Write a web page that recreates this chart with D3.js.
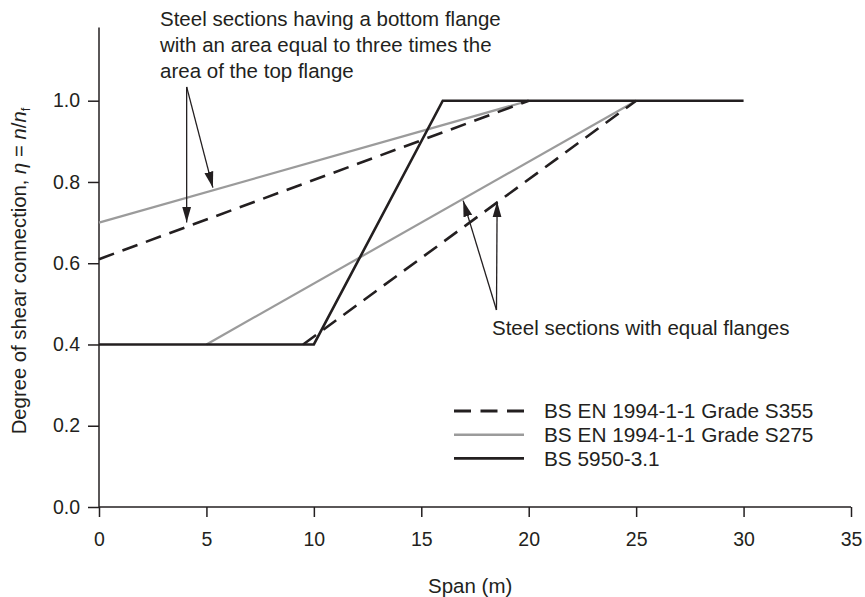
<!DOCTYPE html>
<html>
<head>
<meta charset="utf-8">
<script src="https://cdn.jsdelivr.net/npm/d3@7"></script>
<style>
  html, body { margin: 0; padding: 0; background: #fff; }
  svg { display: block; font-family: "Liberation Sans", Arial, Helvetica, sans-serif; }
</style>
</head>
<body>
<svg id="chart" width="865" height="597"></svg>
<script>
// ---- Data ----
const spanTicks = [0, 5, 10, 15, 20, 25, 30, 35];
const etaTicks = [0.0, 0.2, 0.4, 0.6, 0.8, 1.0];

// Steel sections with equal flanges
const s275EqualX = [5, 25];
const s275EqualY = [0.4, 1.0];
const s355EqualX = [9.5, 25];
const s355EqualY = [0.4, 1.0];

// Steel sections with bottom flange area = 3 x top flange area
const s275UnequalX = [0, 20];
const s275UnequalY = [0.70, 1.0];
const s355UnequalX = [0, 20];
const s355UnequalY = [0.61, 1.0];

// BS 5950-3.1
const bs5950X = [0, 10, 16, 30];
const bs5950Y = [0.4, 0.4, 1.0, 1.0];

const legendLabels = ["BS EN 1994-1-1 Grade S355", "BS EN 1994-1-1 Grade S275", "BS 5950-3.1"];

const topNote = ["Steel sections having a bottom flange", "with an area equal to three times the", "area of the top flange"];
const bottomNote = "Steel sections with equal flanges";
// annotation arrows in data units: [fromX, fromY, toX, toY]
const topArrows = [[4.08, 1.034, 4.08, 0.700], [4.08, 1.034, 5.3, 0.786]];
const bottomArrows = [[18.5, 0.485, 16.95, 0.754], [18.5, 0.485, 18.53, 0.752]];

// ---- Layout ----
const ink = "#231f20";
const grey = "#9b9b9b";
const svg = d3.select("#chart");
const x = d3.scaleLinear().domain([0, 35]).range([99, 851]);
const y = d3.scaleLinear().domain([0, 1]).range([507, 100.7]);

// defs: arrowhead
svg.append("defs").append("marker")
  .attr("id", "ah").attr("viewBox", "0 0 16 10")
  .attr("refX", 16).attr("refY", 5)
  .attr("markerWidth", 16).attr("markerHeight", 10)
  .attr("markerUnits", "userSpaceOnUse")
  .attr("orient", "auto")
  .append("path").attr("d", "M0,0.5 L16,5 L0,9.5 Z").attr("fill", ink);

// Axes
const xAxis = d3.axisBottom(x).tickValues(spanTicks).tickFormat(d3.format("d")).tickSize(10).tickSizeOuter(0).tickPadding(15);
const gx = svg.append("g").attr("transform", `translate(0,${y(0)})`).call(xAxis);
const yAxis = d3.axisLeft(y).tickValues(etaTicks).tickFormat(d3.format(".1f")).tickSize(11).tickSizeOuter(0).tickPadding(8);
const gy = svg.append("g").attr("transform", `translate(${x(0)},0)`).call(yAxis);
gx.select(".domain").remove();
gy.select(".domain").remove();
[gx, gy].forEach(g => {
  g.selectAll("line").attr("stroke", ink).attr("stroke-width", 1.5);
  g.selectAll("text").attr("fill", ink).attr("font-size", 19.5)
    .attr("font-family", "'Liberation Sans', Arial, sans-serif");
});
svg.append("line").attr("x1", x(0)).attr("x2", x(35)).attr("y1", y(0)).attr("y2", y(0))
  .attr("stroke", ink).attr("stroke-width", 1.5);
svg.append("line").attr("x1", x(0)).attr("x2", x(0)).attr("y1", y(0)).attr("y2", y(1.18))
  .attr("stroke", ink).attr("stroke-width", 1.5);

// Series
const line = d3.line().x(d => x(d[0])).y(d => y(d[1]));
const zip = (a, b) => a.map((v, i) => [v, b[i]]);
const series = [
  { xs: s275UnequalX, ys: s275UnequalY, color: grey, dash: null, w: 2.2 },
  { xs: s275EqualX, ys: s275EqualY, color: grey, dash: null, w: 2.2 },
  { xs: s355UnequalX, ys: s355UnequalY, color: ink, dash: "16,9", w: 2.6 },
  { xs: s355EqualX, ys: s355EqualY, color: ink, dash: "16,9", w: 2.6 },
  { xs: bs5950X, ys: bs5950Y, color: ink, dash: null, w: 2.6 }
];
series.forEach(s => {
  svg.append("path").datum(zip(s.xs, s.ys)).attr("d", line)
    .attr("fill", "none").attr("stroke", s.color).attr("stroke-width", s.w)
    .attr("stroke-dasharray", s.dash).attr("stroke-linejoin", "miter");
});

// Legend
const legendStyles = [
  { color: ink, dash: "17,9.5", w: 2.8 },
  { color: grey, dash: null, w: 2.4 },
  { color: ink, dash: null, w: 2.8 }
];
const legendY = [411, 434.7, 458.3];
legendLabels.forEach((lab, i) => {
  svg.append("line").attr("x1", 454).attr("x2", 524).attr("y1", legendY[i]).attr("y2", legendY[i])
    .attr("stroke", legendStyles[i].color).attr("stroke-width", legendStyles[i].w)
    .attr("stroke-dasharray", legendStyles[i].dash);
  svg.append("text").attr("x", 544).attr("y", legendY[i]).attr("dy", "0.35em")
    .attr("font-size", 20.8).attr("fill", ink).text(lab);
});

// Annotations
topNote.forEach((t, i) => {
  svg.append("text").attr("x", 160).attr("y", 26 + i * 26).attr("font-size", 20.5).attr("fill", ink).text(t);
});
svg.append("text").attr("x", 492).attr("y", 335).attr("font-size", 20.5).attr("fill", ink).text(bottomNote);
topArrows.concat(bottomArrows).forEach(a => {
  svg.append("line").attr("x1", x(a[0])).attr("y1", y(a[1])).attr("x2", x(a[2])).attr("y2", y(a[3]))
    .attr("stroke", ink).attr("stroke-width", 1.3).attr("marker-end", "url(#ah)");
});

// Axis titles
svg.append("text").attr("x", 428).attr("y", 593).attr("font-size", 20.5).attr("fill", ink).text("Span (m)");
const yt = svg.append("text").attr("transform", "translate(26,271) rotate(-90)")
  .attr("text-anchor", "middle").attr("font-size", 20.3).attr("fill", ink);
yt.append("tspan").text("Degree of shear connection, ");
yt.append("tspan").attr("font-style", "italic").text("η");
yt.append("tspan").text(" = ");
yt.append("tspan").attr("font-style", "italic").text("n");
yt.append("tspan").text("/");
yt.append("tspan").attr("font-style", "italic").text("n");
yt.append("tspan").attr("font-size", 13).attr("dy", 4).text("f");
</script>
</body>
</html>
